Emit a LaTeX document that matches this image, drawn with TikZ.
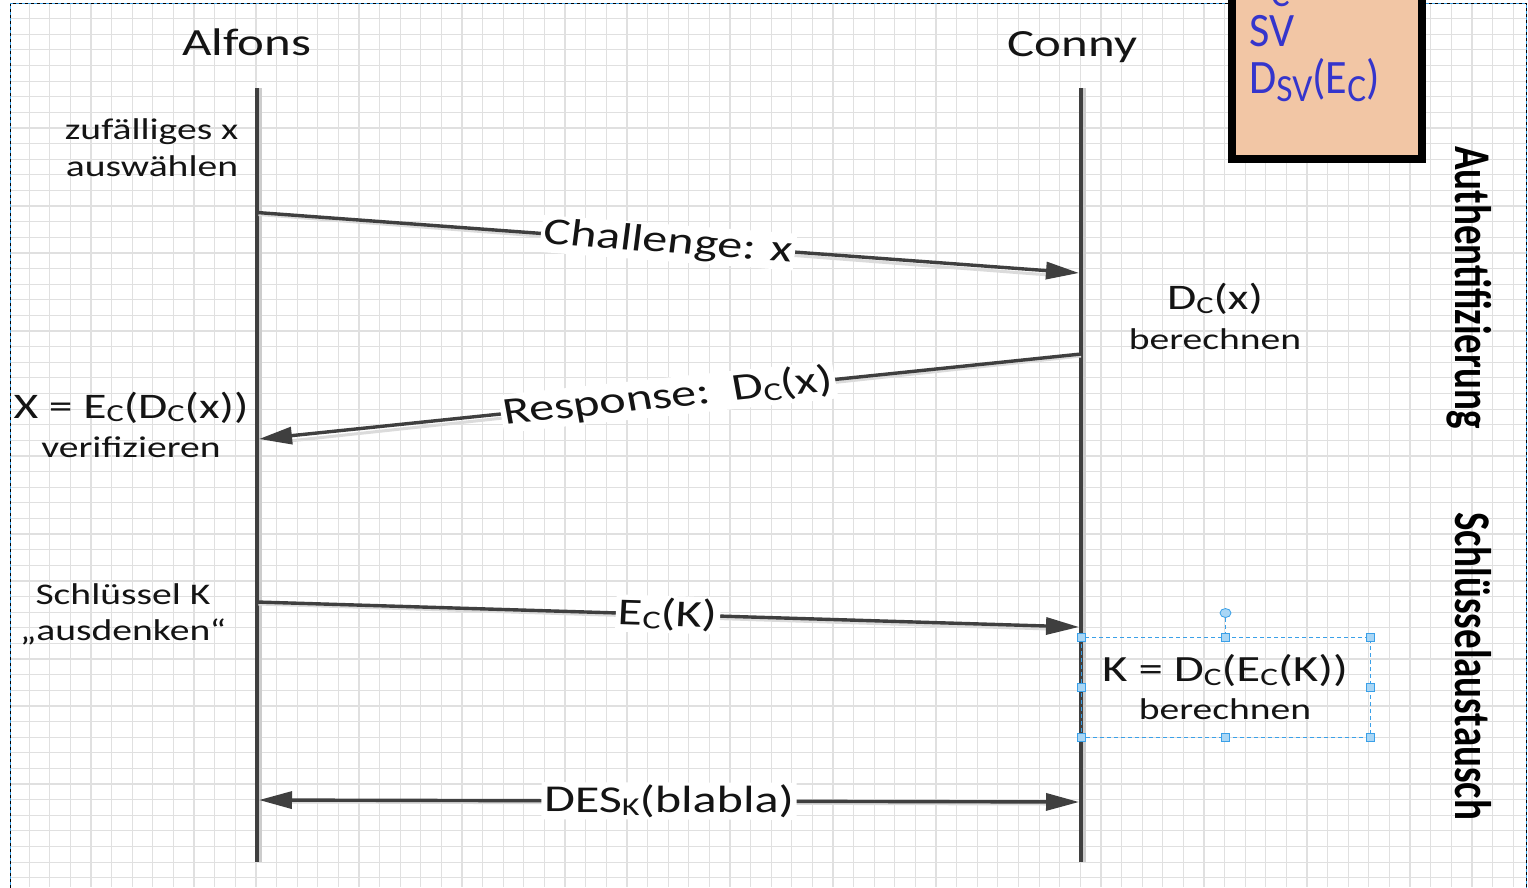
\documentclass[tikz,border=0pt]{standalone}
\usepackage{fontspec}
\setmainfont{Carlito}
\usetikzlibrary{arrows.meta,shapes.geometric}

\definecolor{lifegray}{HTML}{3F3F3F}
\definecolor{gridgray}{HTML}{E0E0E0}
\definecolor{peach}{HTML}{F2C6A5}
\definecolor{boxtext}{HTML}{3535CC}
\definecolor{selblue}{HTML}{3AA0E8}
\definecolor{handlefill}{HTML}{A9D6F5}
\definecolor{ink}{HTML}{141414}

% subscripts for the formulas
\newcommand\sbs[1]{\raisebox{-0.1em}{\scalebox{0.68}{#1}}}
\newcommand\bsbs[1]{\raisebox{-0.17em}{\scalebox{0.8}{#1}}}
\newcommand\fsz[1]{\fontsize{#1}{#1}\selectfont}

% text that is stretched horizontally; the scope keeps the anchor in place
% #1 extra node options, #2 name, #3 position, #4 angle, #5 text
\newcommand\widetext[5][]{%
  \begin{scope}[shift={#3}, xscale=1.32]
    \node[transform shape, rotate=#4, #1] (#2) at (0,0) {#5};
  \end{scope}}

\tikzset{
  gridrule/.style={gridgray, line width=1.2pt},
  lifeline/.style={lifegray, line width=4.5pt},
  lifeshade/.style={black!20, line width=3pt},
  msg/.style={lifegray, line width=3.4pt,
    -{Triangle[length=33pt,width=17pt]}},
  msgboth/.style={lifegray, line width=3.4pt,
    {Triangle[length=33pt,width=17pt]}-{Triangle[length=33pt,width=17pt]}},
  msgshade/.style={black!14, line width=3pt},
  msglabel/.style={fill=white, inner sep=2pt, text=ink, font=\fsz{38}},
  actor/.style={anchor=base, inner sep=0pt, text=ink, font=\fsz{38.5}},
  note/.style={anchor=base, inner sep=0pt, text=ink, font=\fsz{30}},
  formula/.style={anchor=base, inner sep=0pt, text=ink, font=\fsz{36}},
  phase/.style={anchor=base, inner sep=0pt, text=black, font=\bfseries\fsz{39}},
  boxline/.style={anchor=base west, inner sep=0pt, text=boxtext, font=\fsz{48}},
  selframe/.style={selblue, line width=1pt, dash pattern=on 4pt off 3pt},
  handle/.style={draw=selblue, fill=handlefill, line width=0.8pt,
    minimum size=8pt, inner sep=0pt, rectangle},
}

\begin{document}
\begin{tikzpicture}[x=1pt, y=-1pt]
  \useasboundingbox (0,0) rectangle (1528,887);
  \clip (0,0) rectangle (1528,887);
  \fill[white] (0,0) rectangle (1528,887);

  % drawing sheet grid
  \foreach \i in {1,...,73}
    \draw[gridrule] ({8.6+20.61*\i},3) -- ({8.6+20.61*\i},887);
  \foreach \j in {1,...,56}
    \draw[gridrule] (10,{3+15.62*\j}) -- (1526,{3+15.62*\j});

  % sheet border
  \draw[black, line width=1pt, dash pattern=on 3pt off 3pt]
    (10,900) -- (10,3.3) -- (1526.5,3.3) -- (1526.5,900);
  \draw[selblue, line width=1pt, dash pattern=on 3pt off 3pt, dash phase=3pt]
    (10,900) -- (10,3.3) -- (1526.5,3.3) -- (1526.5,900);

  % lifelines
  \coordinate (A0) at (257,88);
  \coordinate (A1) at (257,862);
  \coordinate (C0) at (1081,88);
  \coordinate (C1) at (1081,862);
  \draw[lifeshade] ([xshift=3pt]A0) -- ([xshift=3pt]A1);
  \draw[lifeshade] ([xshift=3pt]C0) -- ([xshift=3pt]C1);
  \draw[lifeline] (A0) -- (A1);
  \draw[lifeline] (C0) -- (C1);

  \widetext[actor]{alfons}{(246.7,55)}{0}{Alfons}
  \widetext[actor]{conny}{(1072.5,56)}{0}{Conny}

  % message end points on the lifelines
  \coordinate (chS) at (257,212.5);
  \coordinate (chE) at (1079,273);
  \coordinate (reS) at (1081,354);
  \coordinate (reE) at (259,439);
  \coordinate (ekS) at (257,602);
  \coordinate (ekE) at (1079,627);
  \coordinate (desS) at (259,800);
  \coordinate (desE) at (1079,802);

  % message shadows
  \draw[msgshade] ([shift={(1.5,2)}]chS) -- ([shift={(-30,2)}]chE);
  \draw[msgshade] ([shift={(0,2)}]reS) -- ([shift={(30,2)}]reE);
  \draw[msgshade] ([shift={(1.5,2)}]ekS) -- ([shift={(-30,2)}]ekE);
  \draw[msgshade] ([shift={(30,2)}]desS) -- ([shift={(-30,2)}]desE);

  % messages
  \draw[msg] (chS) -- (chE);
  \draw[msg] (reS) -- (reE);
  \draw[msg] (ekS) -- (ekE);
  \draw[msgboth] (desS) -- (desE);

  \widetext[msglabel]{chL}{(668,242.8)}{-5.55}{Challenge: x}
  \widetext[msglabel]{reL}{(668,396.7)}{7.77}{Response:\ \ D\sbs{C}(x)}
  \widetext[msglabel]{ekL}{(668,614.5)}{-2.3}{E\sbs{C}(K)}
  \widetext[msglabel]{desL}{(669,801)}{-0.18}{DES\sbs{K}(blabla)}

  % notes beside the lifelines
  \widetext[note]{zufA}{(151.7,139.5)}{0}{zufälliges x}
  \widetext[note]{zufB}{(152,176)}{0}{auswählen}
  \widetext[formula]{dcA}{(1215,309.5)}{0}{D\sbs{C}(x)}
  \widetext[note]{dcB}{(1215,349)}{0}{berechnen}
  \widetext[formula]{verA}{(131,418)}{0}{X = E\sbs{C}(D\sbs{C}(x))}
  \widetext[note]{verB}{(131,457)}{0}{verifizieren}
  \widetext[note]{keyA}{(123,604.5)}{0}{Schlüssel K}
  \widetext[note]{keyB}{(123,640.5)}{0}{„ausdenken“}
  \widetext[formula, font=\fsz{37}]{kA}{(1225,681.7)}{0}{K = D\sbs{C}(E\sbs{C}(K))}
  \widetext[note]{kB}{(1225,719.5)}{0}{berechnen}

  % phase labels
  \widetext[phase]{auth}{(1455,287.5)}{-90}{Authentifizierung}
  \widetext[phase]{exch}{(1455,666)}{-90}{Schlüsselaustausch}

  % key box
  \draw[black, line width=7.7pt, fill=peach] (1232,-30) rectangle (1422,159);
  \node[boxline] (boxA) at (1249,-2) {\scalebox{0.92}[1]{E\bsbs{C}}};
  \node[boxline] (boxB) at (1249,46.7) {\scalebox{0.92}[1]{SV}};
  \node[boxline] (boxC) at (1249,93) {\scalebox{0.92}[1]{D\bsbs{SV}(E\bsbs{C})}};

  % selection frame round the last note
  \coordinate (s1) at (1081,637);
  \coordinate (s2) at (1225.5,637);
  \coordinate (s3) at (1370,637);
  \coordinate (s4) at (1370,687);
  \coordinate (s5) at (1370,737);
  \coordinate (s6) at (1225.5,737);
  \coordinate (s7) at (1081,737);
  \coordinate (s8) at (1081,687);
  \node[draw=selblue, fill=handlefill, line width=0.8pt, ellipse, inner sep=0pt,
        minimum width=11pt, minimum height=9pt] (rot) at (1225.5,613) {};
  \draw[selframe] (s1) rectangle (s5);
  \draw[selframe] (rot) -- (s2);
  \foreach \h in {s1,s2,s3,s4,s5,s6,s7,s8}
    \node[handle] at (\h) {};
\end{tikzpicture}
\end{document}
